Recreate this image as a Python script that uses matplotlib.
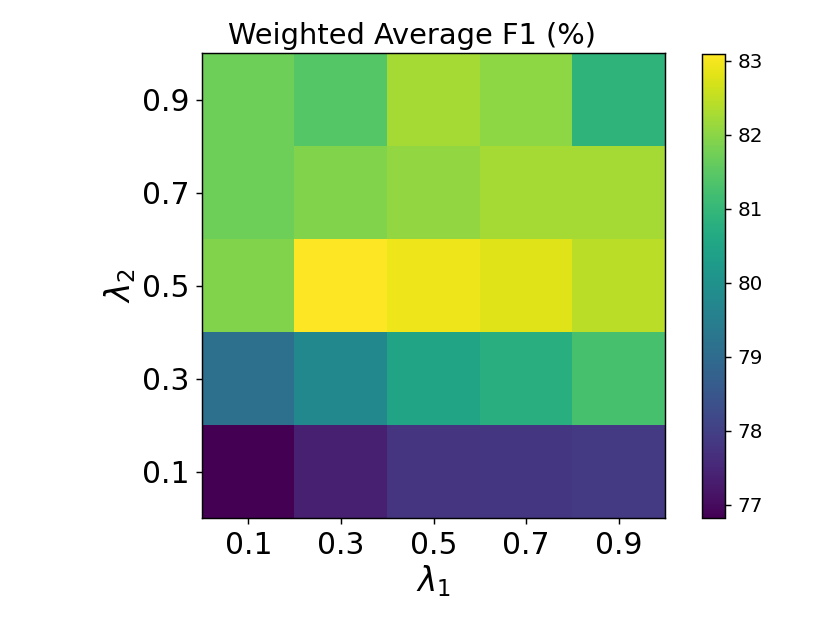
import numpy as np
import matplotlib
matplotlib.use("Agg")
import matplotlib.pyplot as plt

lambda1 = ["0.1", "0.3", "0.5", "0.7", "0.9"]
lambda2 = ["0.1", "0.3", "0.5", "0.7", "0.9"]

# rows = lambda2 (0.1 -> 0.9), cols = lambda1 (0.1 -> 0.9)
row_01 = [76.82, 77.38, 77.79, 77.82, 77.88]
row_03 = [79.14, 79.74, 80.49, 80.77, 81.27]
row_05 = [81.90, 83.09, 82.93, 82.78, 82.43]
row_07 = [81.70, 81.90, 82.08, 82.25, 82.25]
row_09 = [81.70, 81.43, 82.25, 82.02, 80.90]

f1 = np.array([row_01, row_03, row_05, row_07, row_09])

fig = plt.figure(figsize=(830 / 130, 623 / 130), dpi=130)
ax = fig.add_axes([202 / 830, 105 / 623, 463 / 830, 465 / 623])
cax = fig.add_axes([702 / 830, 105 / 623, 23 / 830, 464 / 623])

im = ax.imshow(f1, cmap="viridis", origin="lower", aspect="auto")
ax.set_xticks(range(len(lambda1)))
ax.set_xticklabels(lambda1, fontsize=16.5)
ax.set_yticks(range(len(lambda2)))
ax.set_yticklabels(lambda2, fontsize=16.5)
ax.set_xlabel(r"$\lambda_1$", fontsize=18, labelpad=2)
ax.set_ylabel(r"$\lambda_2$", fontsize=18, labelpad=2)
# titolo centrato sulla figura, non sull'asse
fig.text(412 / 830, 1 - 44 / 623, "Weighted Average F1 (%)", fontsize=16,
         ha="center", va="baseline")

cb = fig.colorbar(im, cax=cax)
cb.ax.tick_params(labelsize=11)

fig.savefig("out.png", dpi=130)
